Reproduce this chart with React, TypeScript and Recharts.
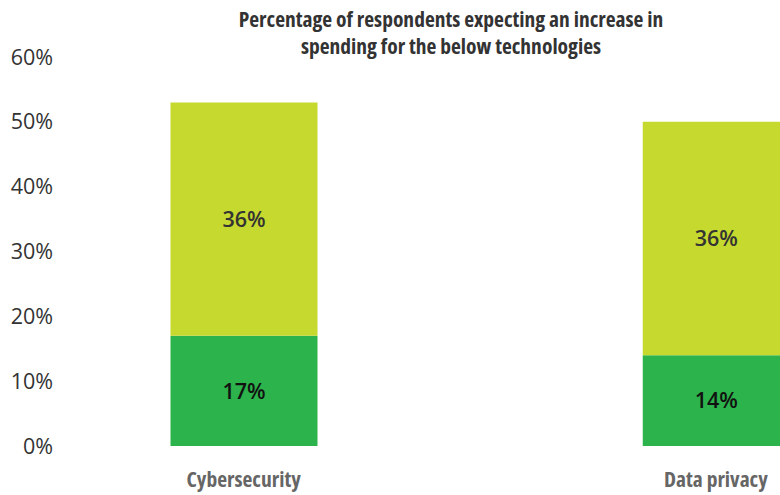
import React from 'react';
import { BarChart, Bar, XAxis, YAxis, LabelList } from 'recharts';

const categories = ['Cybersecurity', 'Data privacy'];
const lowerShare = [17, 14];
const upperShare = [36, 36];
const yTicks = [0, 10, 20, 30, 40, 50, 60];

const data = categories.map((name, i) => ({
  name,
  lower: lowerShare[i],
  upper: upperShare[i],
}));

const condensed = "'Open Sans', 'DejaVu Sans', sans-serif";
const plain = "'Open Sans', sans-serif";

export default function App() {
  return (
    <div
      style={{
        position: 'fixed',
        left: 0,
        top: 0,
        width: 780,
        height: 495,
        overflow: 'hidden',
        background: '#fff',
      }}
    >
      <div
        style={{
          position: 'absolute',
          left: 0,
          top: 5,
          width: 902,
          textAlign: 'center',
          fontFamily: condensed,
          fontStretch: 'condensed',
          fontWeight: 700,
          fontSize: 21.5,
          lineHeight: '27px',
          color: '#333333',
        }}
      >
        Percentage of respondents expecting an increase in
        <br />
        spending for the below technologies
      </div>
      <BarChart
        width={952}
        height={495}
        data={data}
        margin={{ top: 57, right: 0, bottom: 0, left: 0 }}
      >
        <XAxis
          dataKey="name"
          height={49}
          padding={{ left: -52.5, right: 0 }}
          axisLine={false}
          tickLine={false}
          tickSize={0}
          tickMargin={26}
          tick={{
            fill: '#666666',
            fontFamily: condensed,
            fontStretch: 'condensed',
            fontWeight: 700,
            fontSize: 21.5,
          }}
        />
        <YAxis
          width={60}
          domain={[0, 60]}
          ticks={yTicks}
          interval={0}
          axisLine={false}
          tickLine={false}
          tickSize={0}
          tickMargin={7}
          tickFormatter={(v) => `${v}%`}
          tick={{ fill: '#333333', fontFamily: plain, fontSize: 21.5 }}
        />
        <Bar dataKey="lower" stackId="a" fill="#2DB34B" barSize={147} isAnimationActive={false}>
          <LabelList
            dataKey="lower"
            position="center"
            formatter={(v: number) => `${v}%`}
            style={{ fill: '#111111', fontFamily: plain, fontWeight: 600, fontSize: 21.5 }}
          />
        </Bar>
        <Bar dataKey="upper" stackId="a" fill="#C6D92F" barSize={147} isAnimationActive={false}>
          <LabelList
            dataKey="upper"
            position="center"
            formatter={(v: number) => `${v}%`}
            style={{ fill: '#333333', fontFamily: plain, fontWeight: 600, fontSize: 21.5 }}
          />
        </Bar>
      </BarChart>
    </div>
  );
}
